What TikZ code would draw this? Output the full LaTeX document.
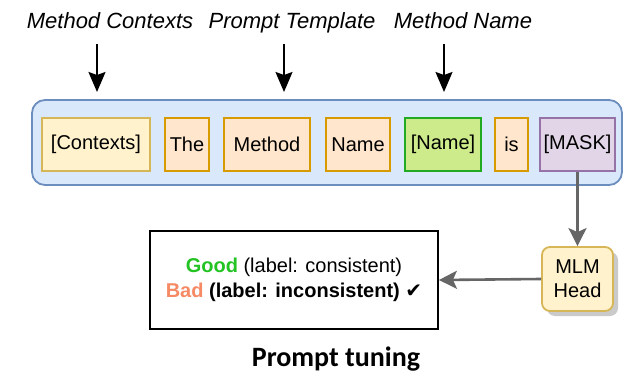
\documentclass[tikz,border=0pt]{standalone}
\usepackage{fontspec}
\setmainfont{Liberation Sans}
\newfontfamily\titlefont{Carlito}
\newfontfamily\symfont{DejaVu Sans}
\usetikzlibrary{arrows.meta,shadows}

\definecolor{panelfill}{HTML}{DAE8FC}
\definecolor{paneldraw}{HTML}{6C8EBF}
\definecolor{ctxfill}{HTML}{FFF2CC}
\definecolor{ctxdraw}{HTML}{D6B656}
\definecolor{tplfill}{HTML}{FFE6CC}
\definecolor{tpldraw}{HTML}{D79B00}
\definecolor{slotfill}{HTML}{CDEB8B}
\definecolor{slotdraw}{HTML}{22AA22}
\definecolor{maskfill}{HTML}{E1D5E7}
\definecolor{maskdraw}{HTML}{9673A6}
\definecolor{linkgray}{HTML}{666666}
\definecolor{goodgreen}{HTML}{22C322}
\definecolor{badorange}{HTML}{F58A65}

\tikzset{
  token/.style={draw, line width=1.8pt, minimum height=53pt, inner sep=0pt,
    font=\fontsize{20}{24}\selectfont},
  ctxbox/.style={token, fill=ctxfill, draw=ctxdraw},
  tplbox/.style={token, fill=tplfill, draw=tpldraw},
  slotbox/.style={token, fill=slotfill, draw=slotdraw},
  maskbox/.style={token, fill=maskfill, draw=maskdraw},
  toplabel/.style={anchor=base, inner sep=0pt,
    font=\fontsize{22}{26}\selectfont\itshape},
  downarrow/.style={draw=black, line width=1.8pt,
    -{Stealth[length=20pt,width=17pt,inset=3pt]}},
  grayarrow/.style={draw=linkgray, line width=2.6pt,
    -{Stealth[length=18pt,width=18pt,inset=4pt]}},
}

\begin{document}
\begin{tikzpicture}[x=1pt,y=-1pt]
  \useasboundingbox (0,0) rectangle (626,374);

  % labels above the prompt
  \node[toplabel] (lctx) at (110,29) {Method Contexts};
  \node[toplabel] (ltpl) at (292,29) {Prompt Template};
  \node[toplabel] (lname) at (463,29) {Method Name};

  \coordinate (a1s) at (97,44);  \coordinate (a1e) at (97,92);
  \coordinate (a2s) at (284,44); \coordinate (a2e) at (284,92);
  \coordinate (a3s) at (444,44); \coordinate (a3e) at (444,92);
  \draw[downarrow] (a1s) -- (a1e);
  \draw[downarrow] (a2s) -- (a2e);
  \draw[downarrow] (a3s) -- (a3e);

  % prompt panel
  \draw[fill=panelfill, draw=paneldraw, line width=1.8pt, rounded corners=13pt]
    (32,100) rectangle (622,185);

  \node[ctxbox, minimum width=108pt] (ctx) at (96,144.5) {[Contexts]};
  \node[tplbox, minimum width=44pt] (the) at (187,144.5) {The};
  \node[tplbox, minimum width=86pt] (meth) at (267,144.5) {Method};
  \node[tplbox, minimum width=64pt] (name) at (358,144.5) {Name};
  \node[slotbox, minimum width=76pt] (slot) at (443,144.5) {[Name]};
  \node[tplbox, minimum width=33pt] (is) at (511.5,144.5) {is};
  \node[maskbox, minimum width=75pt] (mask) at (577.5,144.5) {[MASK]};

  % MLM head
  \node[draw=ctxdraw, fill=ctxfill, line width=1.8pt, rounded corners=8pt,
    minimum width=71pt, minimum height=64pt, inner sep=0pt, align=center,
    font=\fontsize{20}{24}\selectfont,
    drop shadow={shadow xshift=5pt, shadow yshift=-5pt, opacity=0.35, fill=black!60}]
    (mlm) at (577.5,279) {MLM\\Head};

  % prediction box
  \node[draw=black, line width=1.8pt, minimum width=288pt, minimum height=98pt,
    inner sep=0pt, align=center, font=\fontsize{20}{25}\selectfont]
    (res) at (294,280)
    {{\bfseries\color{goodgreen}Good} (label: consistent)\\
     {\color{badorange}\bfseries Bad} \textbf{(label: inconsistent)} {\symfont ✔}};

  \draw[grayarrow] (mask.south) -- (mlm.north);
  \draw[grayarrow] (mlm.west) -- (res.east);

  % caption
  \node[anchor=base, inner sep=0pt, font=\titlefont\bfseries\fontsize{28}{32}\selectfont]
    (cap) at (336,366) {Prompt tuning};
\end{tikzpicture}
\end{document}
